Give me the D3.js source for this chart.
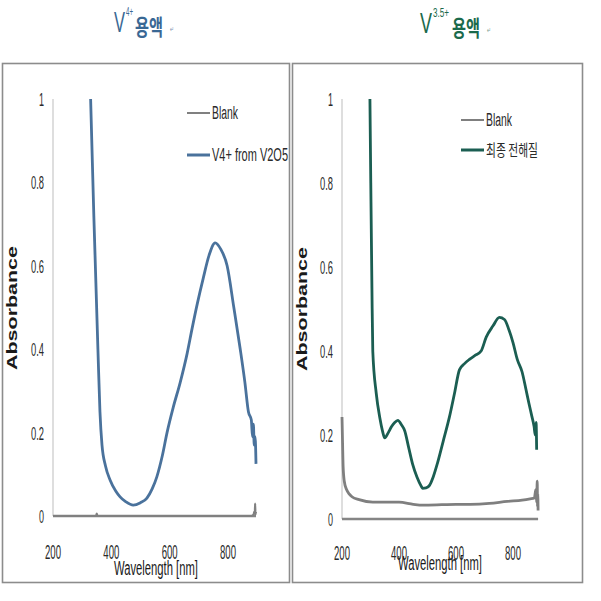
<!DOCTYPE html>
<html><head><meta charset="utf-8">
<script src="https://cdn.jsdelivr.net/npm/d3@7"></script>
<style>body{margin:0;background:#fff}svg{display:block}</style>
</head><body>
<script>
// ---- data ----
const xTicks = [200, 400, 600, 800];
const yTicks = [0, 0.2, 0.4, 0.6, 0.8, 1];
const yTickLabels = ["0", "0.2", "0.4", "0.6", "0.8", "1"];

const leftSeriesNames = ["Blank", "V4+ from V2O5"];
const rightSeriesNames = ["Blank", "최종 전해질"];

const leftBlankWl  = [200, 348, 350, 352, 600, 880, 888, 890, 892, 893, 894, 896];
const leftBlankAbs = [0, 0, 0.006, 0, 0, 0, 0.004, 0.01, 0.006, 0.03, 0.004, 0.01];

const v4Wl  = [329, 340, 354, 361, 368, 380, 396, 415, 430, 450, 475, 500, 522, 540, 556, 575, 591, 612, 636, 660, 677, 695, 715, 735, 756, 775, 797, 820, 842, 858, 870, 880, 884, 887, 890, 893, 896];
const v4Abs = [1.0, 0.72, 0.40, 0.25, 0.17, 0.12, 0.086, 0.06, 0.046, 0.034, 0.026, 0.032, 0.043, 0.065, 0.094, 0.145, 0.2, 0.26, 0.32, 0.39, 0.45, 0.51, 0.57, 0.625, 0.655, 0.64, 0.60, 0.50, 0.40, 0.32, 0.25, 0.23, 0.19, 0.22, 0.17, 0.19, 0.125];

const rightBlankWl  = [200, 202, 204, 208, 216, 225, 235, 260, 308, 350, 400, 450, 483, 550, 600, 650, 717, 780, 832, 860, 875, 880, 883, 885, 886, 887, 888];
const rightBlankAbs = [0.243, 0.18, 0.124, 0.09, 0.07, 0.06, 0.053, 0.046, 0.04, 0.04, 0.04, 0.035, 0.033, 0.034, 0.035, 0.035, 0.037, 0.042, 0.045, 0.048, 0.05, 0.07, 0.04, 0.09, 0.03, 0.06, 0.02];

const finalWl  = [298, 301, 305, 308, 320, 333, 342, 350, 362, 374, 385, 396, 408, 420, 434, 448, 463, 479, 483, 495, 507, 520, 535, 555, 577, 595, 612, 630, 647, 668, 688, 706, 730, 752, 770, 786, 800, 815, 832, 845, 856, 866, 874, 878, 881, 883];
const finalAbs = [1.0, 0.8, 0.55, 0.40, 0.30, 0.24, 0.21, 0.193, 0.205, 0.22, 0.23, 0.235, 0.225, 0.21, 0.17, 0.13, 0.10, 0.077, 0.073, 0.074, 0.08, 0.1, 0.133, 0.185, 0.243, 0.30, 0.355, 0.37, 0.38, 0.39, 0.40, 0.433, 0.46, 0.48, 0.475, 0.45, 0.42, 0.38, 0.35, 0.31, 0.275, 0.245, 0.22, 0.2, 0.23, 0.165];

// ---- drawing ----
const svg = d3.select("body").append("svg").attr("width", 601).attr("height", 601);
const FONT = "'Liberation Sans', Arial, sans-serif";
const KFONT = "'Noto Sans CJK KR', 'Noto Sans', sans-serif";

function txt(x, y, s, o) {
  const t = svg.append("text").attr("x", x).attr("y", y).text(s)
    .attr("font-family", o.family || FONT)
    .attr("font-size", o.size || 16)
    .attr("font-weight", o.weight || "normal")
    .attr("fill", o.fill || "#333")
    .attr("text-anchor", o.anchor || "start");
  if (o.width) t.attr("textLength", o.width).attr("lengthAdjust", "spacingAndGlyphs");
  if (o.rotate) t.attr("transform", `rotate(${o.rotate},${x},${y})`);
  return t;
}

// titles
txt(114, 32, "V", {size: 29, width: 11, fill: "#3a6894"});
txt(126, 16, "4+", {size: 12, width: 7, fill: "#3a6894"});
txt(135, 35, "용액", {size: 22, width: 28, weight: "bold", fill: "#3a6894", family: KFONT});
txt(170, 32, "↵", {size: 8, width: 4, fill: "#7a93b0"});

txt(420, 33, "V", {size: 29, width: 12, fill: "#1b6a4c"});
txt(433, 17, "3.5+", {size: 12, width: 16, fill: "#1b6a4c"});
txt(452, 36, "용액", {size: 22, width: 28, weight: "bold", fill: "#1b6a4c", family: KFONT});
txt(487, 33, "↵", {size: 8, width: 4, fill: "#7aa090"});

// panel frames
svg.append("rect").attr("x", 2.5).attr("y", 63.5).attr("width", 287).attr("height", 519)
  .attr("fill", "none").attr("stroke", "#8c8c8c").attr("stroke-width", 1.6);
svg.append("rect").attr("x", 292.5).attr("y", 63.5).attr("width", 290).attr("height", 519)
  .attr("fill", "none").attr("stroke", "#8c8c8c").attr("stroke-width", 1.6);

function panel(cfg) {
  const x = d3.scaleLinear().domain([200, 800]).range(cfg.xr);
  const y = d3.scaleLinear().domain([0, 1]).range(cfg.yr);
  svg.append("line").attr("x1", x(200)).attr("x2", x(200)).attr("y1", y(1)).attr("y2", y(0))
    .attr("stroke", "#c8c8c8").attr("stroke-width", 1.2);
  svg.append("line").attr("x1", x(200)).attr("x2", x(cfg.xEnd)).attr("y1", y(0)).attr("y2", y(0))
    .attr("stroke", "#858585").attr("stroke-width", 2.4);
  yTicks.forEach((v, i) => {
    const s = yTickLabels[i];
    txt(cfg.yLabX, y(v) + 7, s, {size: 19, anchor: "end", width: s.length === 1 ? 5 : 13, fill: "#2a2a2a"});
  });
  xTicks.forEach(v => {
    txt(x(v), cfg.xLabY, String(v), {size: 20, anchor: "middle", width: 16, fill: "#2a2a2a"});
  });
  txt(cfg.wlX, cfg.wlY, "Wavelength [nm]", {size: 20, anchor: "middle", width: 84, fill: "#1a1a1a"});
  txt(cfg.abX, cfg.abY, "Absorbance", {size: 14, weight: "bold", anchor: "middle", width: 124, fill: "#1a1a1a", rotate: -90});

  const line = d3.line().x(d => x(d[0])).y(d => y(d[1])).curve(d3.curveMonotoneX);
  cfg.series.forEach(s => {
    svg.append("path").datum(d3.zip(s.wl, s.abs)).attr("d", line)
      .attr("fill", "none").attr("stroke", s.color).attr("stroke-width", s.w)
      .attr("stroke-linejoin", "round");
  });
  cfg.series.forEach((s, i) => {
    const ly = cfg.legY[i];
    svg.append("line").attr("x1", cfg.legX).attr("x2", cfg.legX + 23).attr("y1", ly).attr("y2", ly)
      .attr("stroke", s.color).attr("stroke-width", i === 0 ? 2 : 3);
    const isK = /[가-힣]/.test(s.name);
    txt(cfg.legX + 25, ly + 6, s.name, {size: isK ? 16 : 18, width: s.lw, fill: "#2a2a2a", family: isK ? KFONT : FONT});
  });
}

panel({
  xr: [53, 228], yr: [516, 99], xEnd: 896, yLabX: 44, xLabY: 559,
  wlX: 156, wlY: 575, abX: 17, abY: 308, legX: 187, legY: [113, 155],
  series: [
    {name: leftSeriesNames[0], wl: leftBlankWl, abs: leftBlankAbs, color: "#808080", w: 2.2, lw: 26},
    {name: leftSeriesNames[1], wl: v4Wl, abs: v4Abs, color: "#4a729c", w: 2.8, lw: 76}
  ]
});
panel({
  xr: [342, 513], yr: [519, 99], xEnd: 888, yLabX: 333, xLabY: 560,
  wlX: 440, wlY: 570, abX: 307, abY: 309, legX: 461, legY: [120, 150],
  series: [
    {name: rightSeriesNames[0], wl: rightBlankWl, abs: rightBlankAbs, color: "#7f7f7f", w: 2.8, lw: 26},
    {name: rightSeriesNames[1], wl: finalWl, abs: finalAbs, color: "#1b5e52", w: 2.8, lw: 52}
  ]
});
</script>
</body></html>
